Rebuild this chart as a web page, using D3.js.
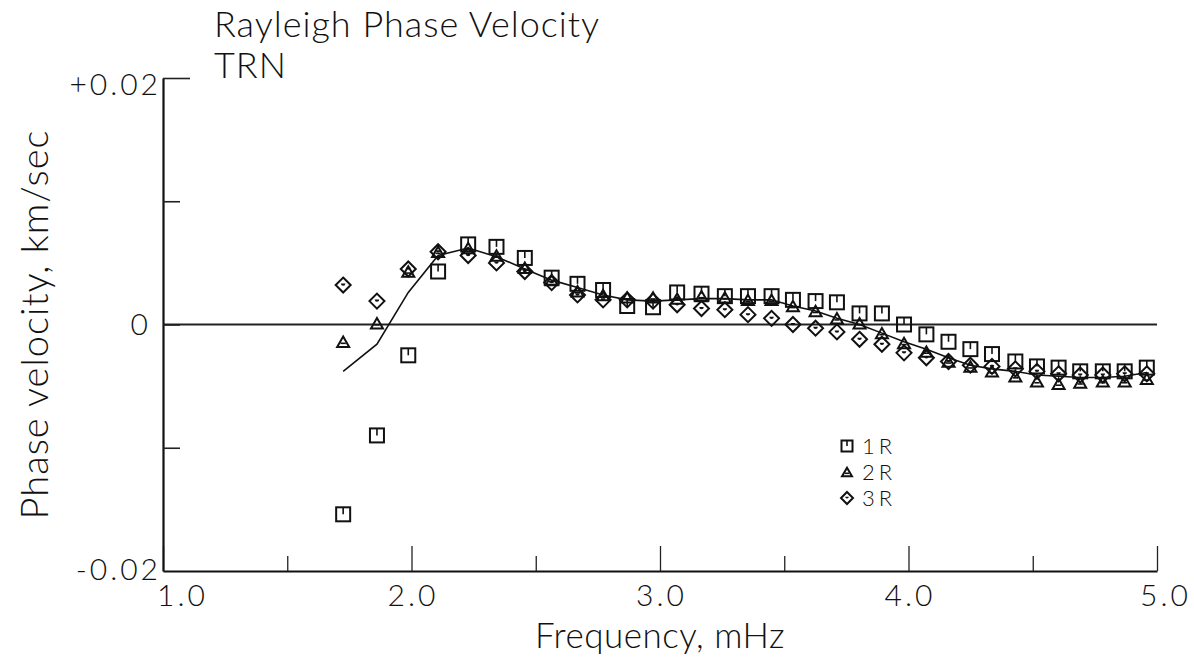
<!DOCTYPE html>
<html>
<head>
<meta charset="utf-8">
<script src="https://cdn.jsdelivr.net/npm/d3@7"></script>
<style>
  html, body { margin: 0; padding: 0; background: #fff; }
  svg text { font-family: Lato, "Open Sans", "DejaVu Sans", sans-serif; font-weight: 300; fill: #111; }
</style>
</head>
<body>
<div id="chart"></div>
<script>
// frequencies (mHz) where the three runs were measured
const freq = [1.725, 1.861, 1.987, 2.107, 2.228, 2.342, 2.456, 2.564, 2.668, 2.771,
              2.868, 2.972, 3.069, 3.167, 3.261, 3.354, 3.449, 3.535, 3.626, 3.712,
              3.803, 3.893, 3.982, 4.072, 4.161, 4.249, 4.336, 4.430, 4.517, 4.604,
              4.691, 4.782, 4.870, 4.959];

// 1R (squares)
const r1 = [-0.0154, -0.0090, -0.0025, 0.0043, 0.0065, 0.0063, 0.0054, 0.0038, 0.0033, 0.0028,
            0.0015, 0.0014, 0.0026, 0.0025, 0.0023, 0.0023, 0.0023, 0.0020, 0.0019, 0.0018,
            0.0009, 0.0009, 0.0000, -0.0008, -0.0014, -0.0020, -0.0024, -0.0030, -0.0034, -0.0035,
            -0.0038, -0.0038, -0.0038, -0.0035];

// 2R (triangles)
const r2 = [-0.0014, 0.0001, 0.0043, 0.0059, 0.0062, 0.0056, 0.0046, 0.0036, 0.0027, 0.0024,
            0.0022, 0.0022, 0.0021, 0.0023, 0.0022, 0.0020, 0.0020, 0.0015, 0.0011, 0.0005,
            0.0001, -0.0007, -0.0015, -0.0022, -0.0030, -0.0034, -0.0038, -0.0042, -0.0046, -0.0048,
            -0.0047, -0.0046, -0.0046, -0.0044];

// 3R (diamonds)
const r3 = [0.0032, 0.0019, 0.0045, 0.0059, 0.0056, 0.0050, 0.0043, 0.0034, 0.0024, 0.0020,
            0.0020, 0.0019, 0.0016, 0.0013, 0.0012, 0.0008, 0.0005, 0.0000, -0.0003, -0.0006,
            -0.0012, -0.0016, -0.0023, -0.0027, -0.0030, -0.0033, -0.0034, -0.0036, -0.0038, -0.0040,
            -0.0041, -0.0041, -0.0040, -0.0040];

// smooth reference curve
const fit = [-0.0038, -0.0016, 0.0026, 0.0056, 0.0062, 0.0055, 0.0045, 0.0036, 0.0030, 0.0024,
             0.0020, 0.0019, 0.0020, 0.0021, 0.0021, 0.0020, 0.0020, 0.0015, 0.0011, 0.0005,
             0.0000, -0.0007, -0.0014, -0.0020, -0.0027, -0.0033, -0.0036, -0.0038, -0.0041, -0.0042,
             -0.0043, -0.0043, -0.0042, -0.0039];

const xMajor = [1, 2, 3, 4, 5];
const xMajorLabels = ['1.0', '2.0', '3.0', '4.0', '5.0'];
const xMinor = [1.5, 2.5, 3.5, 4.5];
const yTicks = [0.02, 0.01, 0, -0.01];
const yTickLabels = ['+0.02', '', '0', ''];
const legendNames = ['1R', '2R', '3R'];

const width = 1194, height = 657;
const margin = { left: 163, right: 37, top: 78, bottom: 86 };

const svg = d3.select('#chart')
    .append('svg')
    .attr('width', width)
    .attr('height', height);

const x = d3.scaleLinear()
    .domain([1, 5])
    .range([margin.left, width - margin.right]);

const y = d3.scaleLinear()
    .domain([-0.02, 0.02])
    .range([height - margin.bottom, margin.top]);

// zero line across the plot
svg.append('line')
    .attr('x1', x(1)).attr('x2', x(5))
    .attr('y1', y(0)).attr('y2', y(0))
    .attr('stroke', '#222')
    .attr('stroke-width', 2);

// x axis: major ticks pointing up, then shorter minor ticks
const xAxis = svg.append('g')
    .attr('transform', `translate(0,${y(-0.02)})`)
    .call(d3.axisBottom(x)
        .tickValues(xMajor)
        .tickSizeInner(-25)
        .tickSizeOuter(0)
        .tickPadding(8)
        .tickFormat((d, i) => xMajorLabels[i]));

xAxis.select('.domain').attr('stroke', '#111').attr('stroke-width', 2.2);
xAxis.selectAll('.tick line').attr('stroke', '#222').attr('stroke-width', 1.3);
xAxis.selectAll('.tick text')
    .attr('font-size', 30)
    .attr('letter-spacing', 3)
    .attr('dy', '0.9em')
    .attr('dx', (d) => d === 1 ? 19 : (d === 5 ? 8 : 1))
    .style('font-family', 'Lato, sans-serif');

svg.append('g')
    .attr('transform', `translate(0,${y(-0.02)})`)
    .call(d3.axisBottom(x)
        .tickValues(xMinor)
        .tickSizeInner(-15)
        .tickSizeOuter(0)
        .tickFormat(''))
    .call(g => g.select('.domain').remove())
    .selectAll('.tick line').attr('stroke', '#222').attr('stroke-width', 1.3);

// y axis with ticks pointing into the plot
const yAxis = svg.append('g')
    .attr('transform', `translate(${x(1)},0)`)
    .call(d3.axisLeft(y)
        .tickValues(yTicks)
        .tickSizeInner(-17)
        .tickSizeOuter(0)
        .tickPadding(6)
        .tickFormat((d, i) => yTickLabels[i]));

yAxis.select('.domain').attr('stroke', '#111').attr('stroke-width', 2.2);
yAxis.selectAll('.tick line')
    .attr('stroke', '#222')
    .attr('stroke-width', 1.6)
    .attr('x2', (d) => d === 0.02 ? 27 : 17);
yAxis.selectAll('.tick text')
    .attr('font-size', 30)
    .attr('letter-spacing', 3)
    .attr('x', (d) => d === 0.02 ? -2 : -12)
    .attr('dy', (d) => d === 0.02 ? '0.55em' : '0.32em');

// bottom-left label sits on the x axis
svg.append('text')
    .attr('x', x(1) - 2)
    .attr('y', y(-0.02))
    .attr('dy', '0.3em')
    .attr('text-anchor', 'end')
    .attr('font-size', 30)
    .attr('letter-spacing', 3)
    .text('-0.02');

// fitted curve
const line = d3.line()
    .x((d, i) => x(freq[i]))
    .y((d) => y(d));

svg.append('path')
    .datum(fit)
    .attr('d', line)
    .attr('fill', 'none')
    .attr('stroke', '#111')
    .attr('stroke-width', 1.6);

// marker drawing helpers
function drawSquare(g, cx, cy, s) {
    g.append('rect')
        .attr('x', cx - s / 2).attr('y', cy - s / 2)
        .attr('width', s).attr('height', s)
        .attr('fill', 'none').attr('stroke', '#111').attr('stroke-width', 2);
    g.append('line')
        .attr('x1', cx).attr('x2', cx)
        .attr('y1', cy - s / 2).attr('y2', cy)
        .attr('stroke', '#111').attr('stroke-width', 1.6);
}

function drawTriangle(g, cx, cy, s) {
    const h = s * 0.87;
    g.append('path')
        .attr('d', `M${cx},${cy - h / 2}L${cx + s / 2},${cy + h / 2}L${cx - s / 2},${cy + h / 2}Z`)
        .attr('fill', 'none').attr('stroke', '#111').attr('stroke-width', 2);
    g.append('line')
        .attr('x1', cx - s * 0.22).attr('x2', cx + s * 0.22)
        .attr('y1', cy + h * 0.15).attr('y2', cy + h * 0.15)
        .attr('stroke', '#111').attr('stroke-width', 1.6);
}

function drawDiamond(g, cx, cy, s) {
    const r = s / 2;
    g.append('path')
        .attr('d', `M${cx},${cy - r}L${cx + r},${cy}L${cx},${cy + r}L${cx - r},${cy}Z`)
        .attr('fill', 'none').attr('stroke', '#111').attr('stroke-width', 2);
    g.append('path')
        .attr('d', `M${cx - r * 0.3},${cy - r * 0.2}A${r * 0.3},${r * 0.3} 0 0 0 ${cx + r * 0.3},${cy - r * 0.2}`)
        .attr('fill', '#111');
}

const series = [
    { values: r1, draw: drawSquare, size: 14 },
    { values: r2, draw: drawTriangle, size: 12 },
    { values: r3, draw: drawDiamond, size: 15 }
];

const marks = svg.append('g');
series.forEach((s) => {
    s.values.forEach((v, i) => {
        s.draw(marks, x(freq[i]), y(v), s.size);
    });
});

// legend (rows kept tight like the original, text a touch smaller so lines don't collide)
const legend = svg.append('g');
const legendY = d3.scalePoint().domain(legendNames).range([446, 498]);
legendNames.forEach((name, i) => {
    const ly = legendY(name);
    series[i].draw(legend, 847, ly, i === 0 ? 11 : (i === 1 ? 10 : 12));
    legend.append('text')
        .attr('x', 862)
        .attr('y', ly)
        .attr('dy', '0.36em')
        .attr('font-size', 22)
        .attr('letter-spacing', 4)
        .text(name);
});

// title block
svg.append('text')
    .attr('x', 214)
    .attr('y', 37)
    .attr('font-size', 36)
    .attr('letter-spacing', 1)
    .text('Rayleigh Phase Velocity');

svg.append('text')
    .attr('x', 214)
    .attr('y', 78)
    .attr('font-size', 36)
    .attr('letter-spacing', 1)
    .text('TRN');

// axis titles
svg.append('text')
    .attr('transform', `translate(48,${y(0)}) rotate(-90)`)
    .attr('text-anchor', 'middle')
    .attr('font-size', 38)
    .attr('letter-spacing', 1)
    .text('Phase velocity, km/sec');

svg.append('text')
    .attr('x', x(3))
    .attr('y', 648)
    .attr('text-anchor', 'middle')
    .attr('font-size', 35)
    .attr('letter-spacing', 0.5)
    .text('Frequency, mHz');
</script>
</body>
</html>
